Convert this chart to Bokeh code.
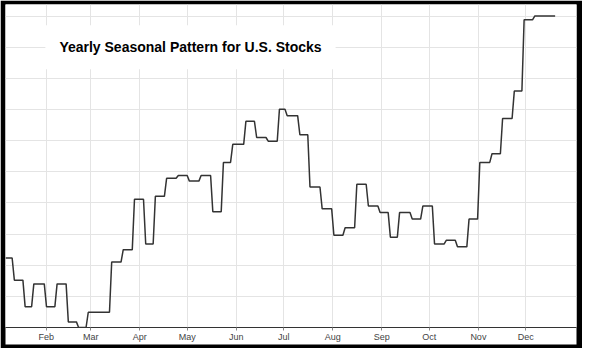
from bokeh.plotting import figure
from bokeh.models import Range1d, FixedTicker, Label
from bokeh.embed import file_html
from bokeh.resources import INLINE

# ---- data (x: day of year, Jan 1 = 0; y: seasonal pattern level, grid units) ----
week_start = [5.2, 10.1, 16.9, 22.4, 30.4, 37.1, 44.2, 50.7, 56.8, 71.6,
              78.9, 86.0, 93.1, 99.2, 106.3, 113.7, 120.7, 128.1, 135.5, 142.2,
              148.1, 156.4, 163.2, 170.5, 177.6, 182.5, 190.5, 196.9, 204.6, 212.0,
              219.1, 226.5, 233.8, 241.2, 247.7, 253.5, 261.5, 268.2, 275.6, 283.0,
              290.1, 297.4, 304.2, 311.9, 318.6, 326.0, 332.2, 338.9]
period_end = 352.5
pattern = [2.23, 1.52, 0.67, 1.40, 0.67, 1.40, 0.18, 0.0, 0.49, 2.10,
           2.50, 4.12, 2.68, 4.21, 4.79, 4.88, 4.70, 4.88, 3.72, 5.30,
           5.88, 6.62, 6.10, 5.98, 7.01, 6.80, 6.19, 4.51, 3.81, 2.96,
           3.20, 4.60, 3.90, 3.69, 2.90, 3.69, 3.48, 3.90, 2.68, 2.80,
           2.59, 3.48, 5.30, 5.58, 6.71, 7.59, 9.88, 10.0]

month_start = [31, 59, 90, 120, 151, 181, 212, 243, 273, 304, 334]
month_names = ["Feb", "Mar", "Apr", "May", "Jun", "Jul", "Aug", "Sep", "Oct", "Nov", "Dec"]
grid_levels = [1, 2, 3, 4, 5, 6, 7, 8, 9, 10]
x_span = (5.2, 366.0)
y_span = (0.0, 10.37)

title_text = "Yearly Seasonal Pattern for U.S. Stocks"
title_pos = (30.4, 9.0)

# ---- figure ----
p = figure(width=582, height=348, output_backend="svg", toolbar_location=None,
           x_range=Range1d(*x_span), y_range=Range1d(*y_span),
           min_border_left=5, min_border_right=6, min_border_top=4, min_border_bottom=21)
p.border_fill_color = "black"
p.background_fill_color = "white"
p.outline_line_color = None
p.yaxis.visible = False

xa = p.xaxis[0]
xa.ticker = FixedTicker(ticks=month_start)
xa.major_label_overrides = {d: m for d, m in zip(month_start, month_names)}
xa.background_fill_color = "white"
xa.minor_tick_line_color = None
xa.major_tick_in = 0
xa.major_tick_out = 3
xa.major_tick_line_color = "#888888"
xa.major_label_standoff = 1
xa.major_label_text_font = "Liberation Sans"
xa.major_label_text_font_size = "9px"
xa.major_label_text_color = "#444444"
xa.axis_line_color = "#333333"
xa.axis_line_width = 1

p.xgrid.ticker = FixedTicker(ticks=month_start)
p.ygrid.ticker = FixedTicker(ticks=grid_levels)
p.xgrid.grid_line_color = "#e4e4e4"
p.ygrid.grid_line_color = "#e4e4e4"

# weekly levels drawn as a step line whose risers are slightly slanted
ramp = 0.7
bounds = week_start + [period_end]
xs, ys = [], []
for i, v in enumerate(pattern):
    a = bounds[i] + (ramp if i > 0 else 0.0)
    b = bounds[i + 1] - (ramp if i < len(pattern) - 1 else 0.0)
    xs += [a, b]
    ys += [v, v]
p.line(xs, ys, line_color="#333333", line_width=1.5)

p.add_layout(Label(x=title_pos[0], y=title_pos[1], text=title_text,
                   text_font="Liberation Sans", text_font_style="bold",
                   text_font_size="14px", text_color="black",
                   text_baseline="middle", text_align="left",
                   background_fill_color="white", padding=14))

open("out.html", "w").write(file_html(p, INLINE))
